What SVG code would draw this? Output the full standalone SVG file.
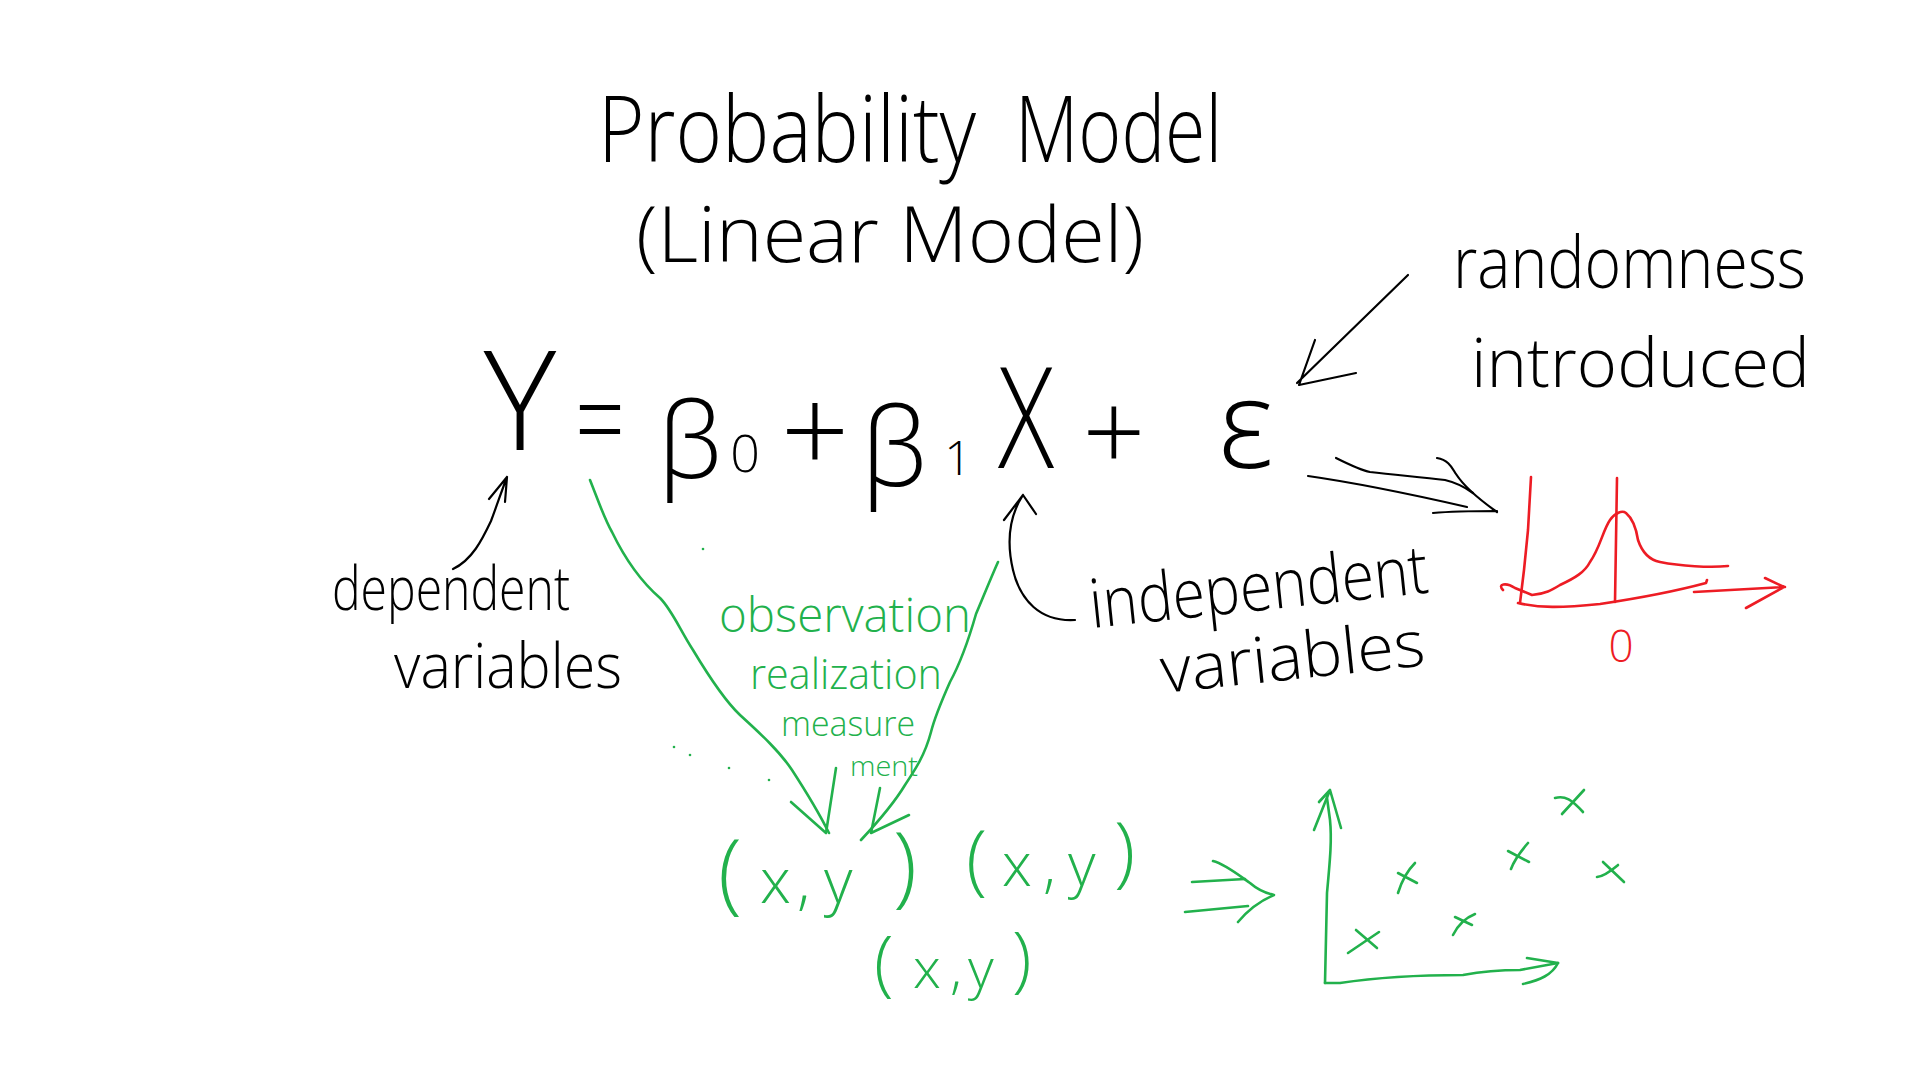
<svg xmlns="http://www.w3.org/2000/svg" width="1920" height="1080" viewBox="0 0 1920 1080">
<style>
.hw{font-family:"Open Sans","Liberation Sans",sans-serif;font-weight:300;fill:#000}
.g{fill:#22B14C}
.r{fill:#ED1C24}
.k{fill:none;stroke:#000;stroke-width:2.2;stroke-linecap:round;stroke-linejoin:round}
.gs{fill:none;stroke:#22B14C;stroke-width:2.6;stroke-linecap:round;stroke-linejoin:round}
.rs{fill:none;stroke:#ED1C24;stroke-width:2.6;stroke-linecap:round;stroke-linejoin:round}
</style>
<rect width="1920" height="1080" fill="#fff"/>

<g id="title">
<text class="hw" x="598" y="162" font-size="92" textLength="378" lengthAdjust="spacingAndGlyphs">Probability</text>
<text class="hw" x="1015" y="162" font-size="92" textLength="207" lengthAdjust="spacingAndGlyphs">Model</text>
</g>
<g id="subtitle">
<text class="hw" x="636" y="262" font-size="78" textLength="508" lengthAdjust="spacingAndGlyphs">(Linear Model)</text>
</g>

<g id="equation">
<text class="hw" x="520" y="450" font-size="138" text-anchor="middle">Y</text>
<text class="hw" x="600" y="462" font-size="120" text-anchor="middle" textLength="50" lengthAdjust="spacingAndGlyphs">=</text>
<text class="hw" x="690" y="478" font-size="105" text-anchor="middle">β</text>
<text class="hw" x="745" y="472" font-size="52" text-anchor="middle">0</text>
<text class="hw" x="815" y="474" font-size="120" text-anchor="middle">+</text>
<text class="hw" x="894" y="486" font-size="108" text-anchor="middle">β</text>
<text class="hw" x="958" y="475" font-size="48" text-anchor="middle">1</text>
<text class="hw" x="1026" y="468" font-size="140" text-anchor="middle" textLength="56" lengthAdjust="spacingAndGlyphs">X</text>
<text class="hw" x="1114" y="472" font-size="110" text-anchor="middle">+</text>
<text class="hw" x="1246" y="468" font-size="123" text-anchor="middle">ε</text>
</g>

<g id="label-dependent">
<text class="hw" x="332" y="610" font-size="60" textLength="238" lengthAdjust="spacingAndGlyphs">dependent</text>
<text class="hw" x="394" y="688" font-size="62" textLength="228" lengthAdjust="spacingAndGlyphs">variables</text>
</g>

<g id="label-independent">
<text class="hw" x="1092" y="628" font-size="68" textLength="340" lengthAdjust="spacingAndGlyphs" transform="rotate(-6 1092 628)">independent</text>
<text class="hw" x="1163" y="693" font-size="64" textLength="265" lengthAdjust="spacingAndGlyphs" transform="rotate(-6 1163 693)">variables</text>
</g>

<g id="label-randomness">
<text class="hw" x="1453" y="288" font-size="72" textLength="353" lengthAdjust="spacingAndGlyphs">randomness</text>
<text class="hw" x="1471" y="387" font-size="68" textLength="339" lengthAdjust="spacingAndGlyphs">introduced</text>
</g>

<g id="label-observation">
<text class="hw g" x="719" y="632" font-size="48" textLength="252" lengthAdjust="spacingAndGlyphs">observation</text>
<text class="hw g" x="750" y="689" font-size="42" textLength="192" lengthAdjust="spacingAndGlyphs">realization</text>
<text class="hw g" x="781" y="736" font-size="34" textLength="134" lengthAdjust="spacingAndGlyphs">measure</text>
<text class="hw g" x="850" y="776" font-size="28" textLength="68" lengthAdjust="spacingAndGlyphs">ment</text>
</g>

<g id="pairs">
<text class="hw g" y="903" font-size="62"><tspan x="718" font-size="88">(</tspan><tspan x="760">x</tspan><tspan x="797">,</tspan><tspan x="824">y</tspan><tspan x="893" y="896" font-size="88">)</tspan></text>
<text class="hw g" y="886" font-size="60"><tspan x="966" font-size="78">(</tspan><tspan x="1002">x</tspan><tspan x="1043">,</tspan><tspan x="1068">y</tspan><tspan x="1114" y="878" font-size="78">)</tspan></text>
<text class="hw g" y="988" font-size="56"><tspan x="874" font-size="72">(</tspan><tspan x="913">x</tspan><tspan x="950">,</tspan><tspan x="968">y</tspan><tspan x="1012" y="984" font-size="72">)</tspan></text>
</g>

<g id="normal-plot">
<path class="rs" d="M1531,477 L1528,530 L1524,570 L1520,603"/>
<path class="rs" d="M1518,603 C1540,608 1560,608 1600,604 C1640,598 1680,590 1706,583 L1707,580"/>
<path class="rs" d="M1694,592 L1785,587 M1765,578 L1784,587 L1746,608"/>
<path class="rs" d="M1617,478 L1615,602"/>
<path class="rs" d="M1503,590 C1497,584 1506,582 1515,588 L1532,595 C1545,594 1552,590 1560,585 C1575,578 1585,572 1590,562 C1600,548 1603,530 1610,520 C1615,513 1622,510 1626,513 C1632,518 1636,527 1638,540 C1642,552 1650,560 1660,562 C1680,566 1710,568 1728,566"/>
<text class="hw r" x="1621" y="662" font-size="44" text-anchor="middle">0</text>
</g>

<g id="scatter-plot">
<path class="gs" d="M1325,983 L1327,893 C1330,860 1332,840 1330,820 L1327,798"/>
<path class="gs" d="M1314,830 L1330,790 L1341,828 M1319,802 L1330,790"/>
<path class="gs" d="M1325,983 L1340,983 C1380,977 1420,975 1463,975 C1490,970 1510,970 1520,970 L1558,963"/>
<path class="gs" d="M1527,958 L1558,963 M1523,984 C1540,980 1552,975 1558,963"/>
<path class="gs" d="M1348,953 L1379,932 M1356,930 L1377,948"/>
<path class="gs" d="M1398,893 C1402,880 1408,870 1415,863 M1398,873 L1417,883"/>
<path class="gs" d="M1453,935 C1458,925 1465,918 1475,914 M1455,917 L1472,925"/>
<path class="gs" d="M1511,869 C1515,858 1522,850 1528,843 M1508,851 L1529,862"/>
<path class="gs" d="M1562,814 L1584,790 M1555,798 C1565,795 1572,800 1583,812"/>
<path class="gs" d="M1597,877 C1605,876 1612,870 1618,865 M1603,862 L1624,882"/>
</g>

<g id="connectors">
<path class="k" d="M453,569 C472,560 482,540 491,521 C497,505 502,490 507,477 M489,499 L507,477 L505,502"/>
<path class="k" d="M1075,620 C1040,622 1020,600 1013,570 C1006,540 1010,515 1023,495 M1004,520 L1023,495 L1036,514"/>
<path class="k" d="M1408,275 L1297,383 M1315,340 L1299,385 L1356,373"/>
<path class="k" d="M1336,458 C1350,465 1360,470 1370,472 C1395,475 1420,477 1445,480 C1458,483 1466,488 1473,493"/>
<path class="k" d="M1308,476 C1350,482 1406,493 1467,507"/>
<path class="k" d="M1437,458 C1449,460 1452,468 1456,474 C1465,488 1480,500 1497,512 M1433,513 C1455,511 1475,511 1497,511"/>
<path class="gs" d="M590,480 C598,500 604,518 612,532 C628,565 645,585 660,598 C672,610 680,630 693,650 C705,670 722,698 740,715 C762,735 780,752 792,770 C805,790 820,815 829,833"/>
<path class="gs" d="M791,802 L826,833 L836,768"/>
<path class="gs" d="M998,562 C990,580 982,600 976,614 C970,635 962,660 950,682 C942,700 935,716 931,732 C925,755 915,770 905,785 C893,805 875,825 861,840"/>
<path class="gs" d="M880,788 L871,833 L909,815"/>
<path class="gs" d="M1192,882 L1245,879 M1185,912 L1248,906"/>
<path class="gs" d="M1213,861 C1225,864 1240,876 1250,883 C1258,890 1265,893 1274,895 C1262,900 1248,910 1238,922"/>
<g fill="#22B14C">
<circle cx="703" cy="549" r="1.3"/>
<circle cx="674" cy="747" r="1.3"/>
<circle cx="690" cy="755" r="1.3"/>
<circle cx="729" cy="768" r="1.3"/>
<circle cx="769" cy="780" r="1.3"/>
</g>
</g>
</svg>
